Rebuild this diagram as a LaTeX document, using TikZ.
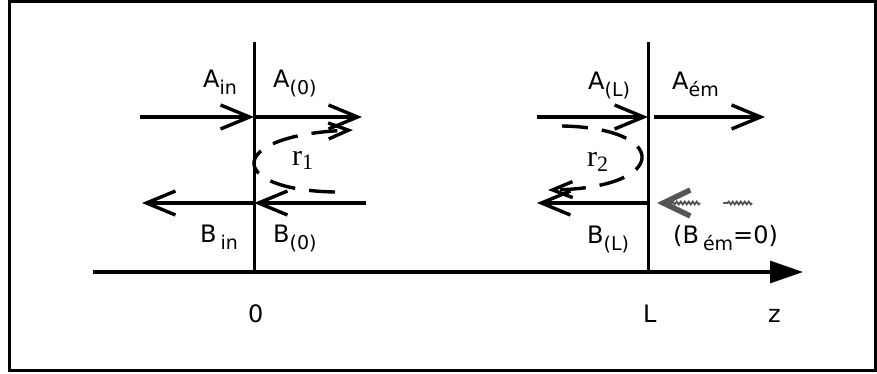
\documentclass[tikz,border=0pt]{standalone}
\usepackage{fontspec}
\setmainfont{DejaVu Sans}
\newfontfamily\rfont{Liberation Serif}
\usetikzlibrary{arrows.meta,decorations.pathmorphing}
\definecolor{GhostGray}{RGB}{85,85,85}
\tikzset{
	mirror/.style={draw=black,line width=3pt},
	axis/.style={draw=black,line width=3.2pt,-{Triangle[length=33pt,width=22pt]}},
	beam/.style={draw=black,line width=3.4pt,-{Straight Barb[length=29pt,width=24pt]}},
	refl/.style={draw=black,line width=3.4pt,dash pattern=on 26pt off 14pt,
		-{Straight Barb[length=20pt,width=16pt]}},
	ghost/.style={draw=GhostGray,line width=1.8pt,decorate,
		decoration={snake,amplitude=1.4pt,segment length=4pt,post length=4pt}},
	lbl/.style={inner sep=0pt,anchor=base west,font=\fontsize{24}{26}\selectfont},
}
\newcommand{\sub}[1]{\raisebox{-7pt}{\fontsize{19}{20}\selectfont #1}}
\newcommand{\refc}[1]{{\rfont\fontsize{30}{32}\selectfont r\raisebox{-5pt}{\fontsize{22}{24}\selectfont #1}}}

\begin{document}
\begin{tikzpicture}[x=1pt,y=-1pt]
	\useasboundingbox (0,0) rectangle (877,374);
	\draw[line width=3pt] (9,2) rectangle (875,370);
	% mirrors and axis
	\coordinate (m0t) at (254,42);
	\coordinate (m0b) at (254,272);
	\coordinate (mLt) at (648,42);
	\coordinate (mLb) at (648,272);
	\coordinate (ax0) at (93,272);
	\coordinate (ax1) at (803,272);
	\draw[mirror] (m0t) -- (m0b);
	\draw[mirror] (mLt) -- (mLb);
	\draw[axis] (ax0) -- (ax1);
	% beams
	\coordinate (ain) at (140,117);
	\coordinate (m0a) at (254,117);
	\coordinate (a0e) at (362,117);
	\coordinate (b0s) at (366,203);
	\coordinate (m0c) at (254,203);
	\coordinate (bine) at (142,203);
	\coordinate (als) at (537,117);
	\coordinate (mLa) at (648,117);
	\coordinate (aems) at (654,117);
	\coordinate (aeme) at (765,117);
	\coordinate (mLc) at (648,203);
	\coordinate (ble) at (537,203);
	\foreach \x/\y in {ain/m0a,m0a/a0e,b0s/m0c,m0c/bine,als/mLa,aems/aeme,mLc/ble}
	\draw[beam] (\x)--(\y);
	% missing backward wave
	\coordinate (gs) at (700,203);
	\coordinate (ge) at (657,203);
	\coordinate (w1) at (752,203);
	\coordinate (w0) at (723,203);
	\draw[ghost,-{Straight Barb[length=27pt,width=26pt,line width=5.5pt]}] (gs) -- (ge);
	\draw[ghost] (w1) -- (w0);
	% reflections
	\coordinate (r1s) at (335,192);
	\coordinate (r1e) at (353,130);
	\coordinate (r2s) at (562,126);
	\coordinate (r2e) at (548,190);
	\draw[refl] (r1s) .. controls (225,190) and (225,135) .. (r1e);
	\draw[refl] (r2s) .. controls (670,128) and (670,188) .. (r2e);
	\node[lbl] (rA) at (292,165) {\refc{1}};
	\node[lbl] (rB) at (587,167) {\refc{2}};
	% labels
	\node[lbl] (lain) at (203,88) {A\sub{in}};
	\node[lbl] (la0) at (273,88) {A\sub{(0)}};
	\node[lbl] (laL) at (588,90) {A\sub{(L)}};
	\node[lbl] (laem) at (672,90) {A\sub{ém}};
	\node[lbl] (lbin) at (200,242) {B\,\sub{in}};
	\node[lbl] (lb0) at (273,242) {B\sub{(0)}};
	\node[lbl] (lbL) at (587,243) {B\sub{(L)}};
	\node[lbl] (lbem) at (673,243) {(B\,\sub{ém}=0)};
	\node[lbl] (z0) at (248,322) {0};
	\node[lbl] (zL) at (643,322) {L};
	\node[lbl] (zz) at (768,322) {z};
\end{tikzpicture}
\end{document}
